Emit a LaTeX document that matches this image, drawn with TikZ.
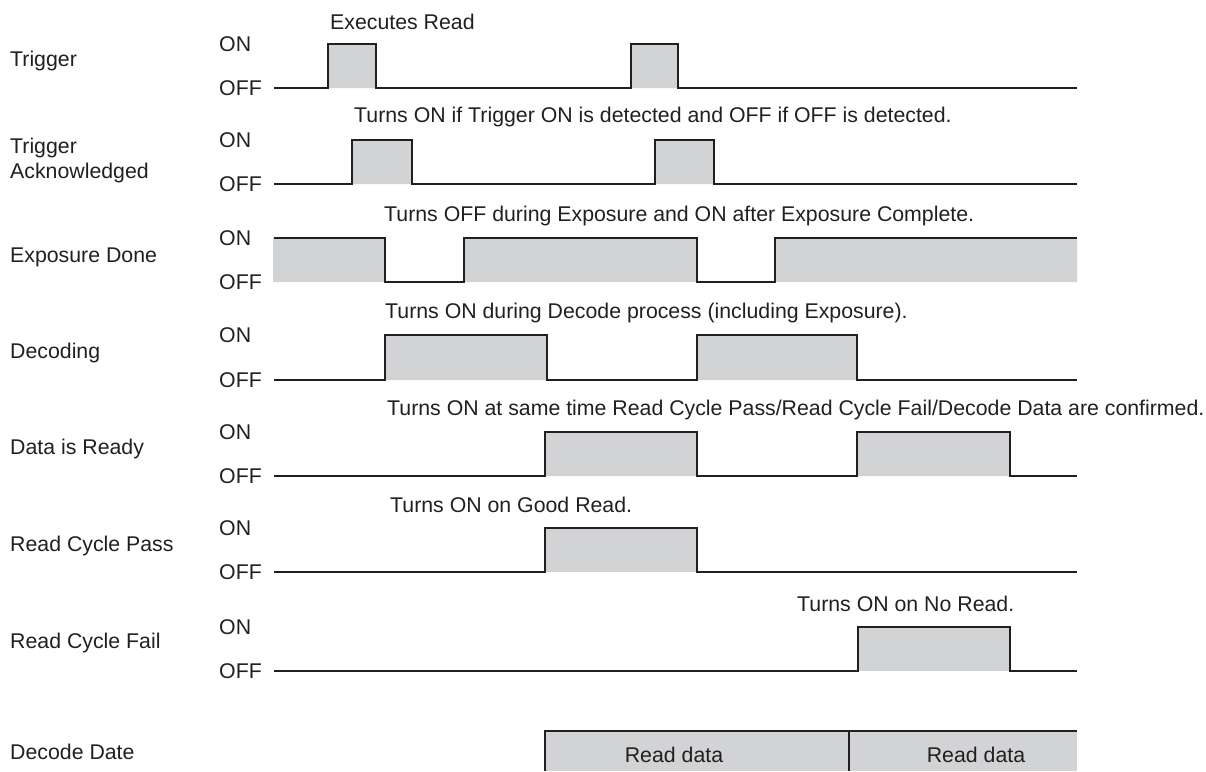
\documentclass[tikz,border=0pt]{standalone}
\usepackage{fontspec}
\setmainfont{Liberation Sans}
\definecolor{encre}{HTML}{231F20}
\definecolor{gris}{HTML}{D1D3D4}

\begin{document}
\begin{tikzpicture}[x=1pt, y=-1pt]
  \tikzstyle{trace}=[draw=encre, line width=1.7pt, line join=miter];
  \tikzstyle{remplissage}=[fill=gris];
  \tikzstyle{texte}=[anchor=west, inner sep=0, text=encre, font=\fontsize{21.3}{25}\selectfont];

  \useasboundingbox (0,0) rectangle (1206,771);

  % noms des signaux
  \node[texte] (trigger) at (10,61) {Trigger};
  \node[texte, align=left] (ack) at (10,160) {Trigger\\Acknowledged};
  \node[texte] (expo) at (10,257) {Exposure Done};
  \node[texte] (decoding) at (10,353) {Decoding};
  \node[texte] (ready) at (10,449) {Data is Ready};
  \node[texte] (pass) at (10,546) {Read Cycle Pass};
  \node[texte] (fail) at (10,643) {Read Cycle Fail};
  \node[texte] (date) at (10,752) {Decode Date};

  % niveaux ON / OFF
  \foreach \i/\on/\off in {1/44/88, 2/140/184, 3/238/282, 4/335/380, 5/432/476, 6/528/572, 7/627/671} {
    \node[texte] (on\i) at (219,\on) {ON};
    \node[texte] (off\i) at (219,\off) {OFF};
  }

  % signaux a deux impulsions
  \foreach \on/\off/\a/\b/\c/\d in {44/88/328/376/631/678, 140/184/352/412/655/714,
                                   335/380/385/547/697/857, 432/476/545/697/857/1010} {
    \fill[remplissage] (\a,\on) rectangle (\b,\off) (\c,\on) rectangle (\d,\off);
    \draw[trace] (274,\off) -- (\a,\off) -- (\a,\on) -- (\b,\on) -- (\b,\off)
      -- (\c,\off) -- (\c,\on) -- (\d,\on) -- (\d,\off) -- (1077,\off);
  }

  % Exposure Done
  \fill[remplissage] (273,238) rectangle (385,282) (464,238) rectangle (697,282)
    (775,238) rectangle (1077,282);
  \draw[trace] (274,238) -- (385,238) -- (385,282) -- (464,282) -- (464,238) -- (697,238)
    -- (697,282) -- (775,282) -- (775,238) -- (1077,238);

  % Read Cycle Pass / Read Cycle Fail
  \foreach \on/\off/\a/\b in {528/572/545/697, 627/671/858/1010} {
    \fill[remplissage] (\a,\on) rectangle (\b,\off);
    \draw[trace] (274,\off) -- (\a,\off) -- (\a,\on) -- (\b,\on) -- (\b,\off) -- (1077,\off);
  }

  % Decode Date
  \fill[remplissage] (545,731) rectangle (1077,771);
  \draw[trace] (545,771) -- (545,731) -- (1077,731);
  \draw[trace] (849,731) -- (849,771);
  \node[texte, anchor=center] (data1) at (674,755) {Read data};
  \node[texte, anchor=center] (data2) at (976,755) {Read data};

  % commentaires
  \node[texte] (n1) at (330,22) {Executes Read};
  \node[texte] (n2) at (354,117) {Turns ON if Trigger ON is detected and OFF if OFF is detected.};
  \node[texte] (n3) at (384,216) {Turns OFF during Exposure and ON after Exposure Complete.};
  \node[texte] (n4) at (385,313) {Turns ON during Decode process (including Exposure).};
  \node[texte] (n5) at (387,410) {Turns ON at same time Read Cycle Pass/Read Cycle Fail/Decode Data are confirmed.};
  \node[texte] (n6) at (390,505) {Turns ON on Good Read.};
  \node[texte] (n7) at (797,604) {Turns ON on No Read.};
\end{tikzpicture}
\end{document}
